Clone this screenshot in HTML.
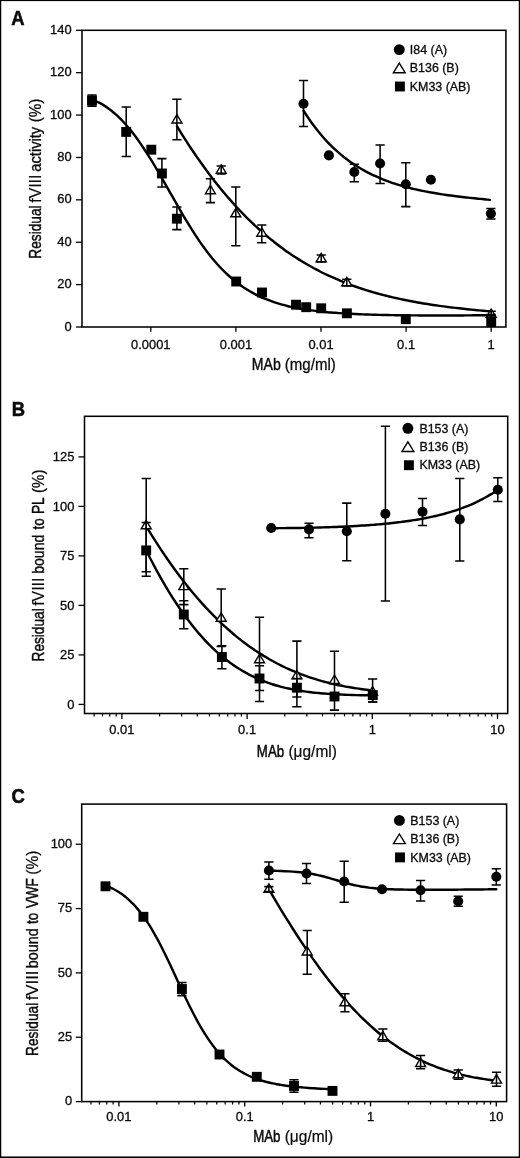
<!DOCTYPE html>
<html lang="en">
<head>
<meta charset="utf-8">
<title>Residual fVIII activity and binding in the presence of MAbs</title>
<style>
html,body{margin:0;padding:0;background:#fff;}
body{width:520px;height:1158px;overflow:hidden;}
svg{display:block;font-family:'Liberation Sans', Arial, Helvetica, sans-serif;fill:#0a0a0a;will-change:transform;}
text{stroke:#0a0a0a;stroke-width:0.3px;stroke-linejoin:round;}
.frame{fill:none;stroke:#000;stroke-width:1.55;}
.outer{fill:none;stroke:#000;}
.tk{stroke:#000;stroke-width:1.3;fill:none;}
.mtk{stroke:#000;stroke-width:1.25;fill:none;}
.ttl{stroke:#0a0a0a;stroke-width:0.5px;}
.eb{stroke:#000;stroke-width:1.55;fill:none;}
.cv{stroke:#000;stroke-width:2.45;fill:none;stroke-linecap:round;stroke-linejoin:round;}
.fill{fill:#000;stroke:none;}
.tri{fill:#fff;stroke:#000;stroke-width:1.4;stroke-linejoin:miter;}
</style>
</head>
<body>
<svg width="520" height="1158" viewBox="0 0 520 1158">
<rect x="0" y="0" width="520" height="1158" fill="#fff"/>
<rect x="0" y="0" width="1.25" height="1158" fill="#000"/>
<rect x="0" y="0" width="520" height="1.1" fill="#000"/>
<rect x="518.75" y="0" width="1.25" height="1158" fill="#000"/>
<rect x="0" y="1156.45" width="520" height="1.55" fill="#000"/>
<g id="panel-A">
<path d="M95.5 101.15C96.17 101.45 98.16 102.29 99.5 102.96C100.83 103.63 102.16 104.36 103.49 105.16C104.83 105.96 106.16 106.82 107.49 107.75C108.82 108.68 110.16 109.67 111.49 110.72C112.82 111.78 114.15 112.9 115.48 114.09C116.82 115.28 118.15 116.53 119.48 117.85C120.81 119.16 122.15 120.54 123.48 121.98C124.81 123.42 126.14 124.93 127.48 126.49C128.81 128.06 130.14 129.68 131.47 131.36C132.81 133.04 134.14 134.78 135.47 136.57C136.8 138.37 138.13 140.21 139.47 142.11C140.8 144.01 142.13 145.96 143.46 147.95C144.8 149.95 146.13 152 147.46 154.08C148.79 156.17 150.13 158.31 151.46 160.48C152.79 162.65 154.12 164.86 155.45 167.1C156.79 169.33 158.12 171.61 159.45 173.9C160.78 176.19 162.12 178.51 163.45 180.84C164.78 183.17 166.11 185.52 167.45 187.87C168.78 190.21 170.11 192.58 171.44 194.93C172.77 197.28 174.11 199.63 175.44 201.96C176.77 204.3 178.1 206.63 179.44 208.93C180.77 211.23 182.1 213.52 183.43 215.77C184.77 218.03 186.1 220.26 187.43 222.45C188.76 224.64 190.09 226.8 191.43 228.92C192.76 231.04 194.09 233.12 195.42 235.16C196.76 237.19 198.09 239.18 199.42 241.13C200.75 243.07 202.09 244.97 203.42 246.81C204.75 248.66 206.08 250.45 207.42 252.2C208.75 253.94 210.08 255.63 211.41 257.27C212.74 258.92 214.08 260.51 215.41 262.04C216.74 263.58 218.07 265.07 219.41 266.5C220.74 267.94 222.07 269.32 223.4 270.66C224.74 271.99 226.07 273.28 227.4 274.52C228.73 275.76 230.06 276.95 231.4 278.09C232.73 279.24 234.06 280.34 235.39 281.4C236.73 282.45 238.06 283.46 239.39 284.44C240.72 285.41 242.06 286.34 243.39 287.24C244.72 288.13 246.05 288.98 247.38 289.8C248.72 290.62 250.05 291.41 251.38 292.16C252.71 292.91 254.05 293.62 255.38 294.31C256.71 295 258.04 295.65 259.38 296.28C260.71 296.91 262.04 297.5 263.37 298.07C264.71 298.65 266.04 299.19 267.37 299.71C268.7 300.23 270.03 300.73 271.37 301.2C272.7 301.68 274.03 302.13 275.36 302.56C276.7 302.99 278.03 303.4 279.36 303.8C280.69 304.19 282.03 304.56 283.36 304.92C284.69 305.28 286.02 305.62 287.35 305.94C288.69 306.27 290.02 306.57 291.35 306.87C292.68 307.17 294.02 307.44 295.35 307.71C296.68 307.98 298.01 308.23 299.35 308.48C300.68 308.72 302.01 308.95 303.34 309.17C304.67 309.39 306.01 309.6 307.34 309.8C308.67 310 310 310.19 311.34 310.37C312.67 310.55 314 310.73 315.33 310.89C316.67 311.06 318 311.21 319.33 311.36C320.66 311.51 321.99 311.65 323.33 311.79C324.66 311.92 325.99 312.05 327.32 312.17C328.66 312.3 329.99 312.41 331.32 312.52C332.65 312.64 333.99 312.74 335.32 312.84C336.65 312.94 337.98 313.04 339.32 313.13C340.65 313.22 341.98 313.31 343.31 313.39C344.64 313.47 345.98 313.55 347.31 313.63C348.64 313.7 349.97 313.77 351.31 313.84C352.64 313.91 353.97 313.97 355.3 314.03C356.64 314.09 357.97 314.15 359.3 314.21C360.63 314.26 361.96 314.31 363.3 314.36C364.63 314.41 365.96 314.46 367.29 314.51C368.63 314.55 369.96 314.59 371.29 314.63C372.62 314.67 373.96 314.71 375.29 314.75C376.62 314.79 377.95 314.82 379.28 314.85C380.62 314.89 381.95 314.92 383.28 314.95C384.61 314.97 385.95 315 387.28 315.03C388.61 315.05 389.94 315.08 391.28 315.1C392.61 315.12 393.94 315.15 395.27 315.17C396.61 315.19 397.94 315.21 399.27 315.22C400.6 315.24 401.93 315.26 403.27 315.27C404.6 315.29 405.93 315.3 407.26 315.32C408.6 315.33 409.93 315.34 411.26 315.35C412.59 315.37 413.93 315.38 415.26 315.39C416.59 315.4 417.92 315.4 419.25 315.41C420.59 315.42 421.92 315.43 423.25 315.43C424.58 315.44 425.92 315.44 427.25 315.45C428.58 315.45 429.91 315.46 431.25 315.46C432.58 315.46 433.91 315.47 435.24 315.47C436.57 315.47 437.91 315.47 439.24 315.47C440.57 315.47 441.9 315.47 443.24 315.47C444.57 315.47 445.9 315.47 447.23 315.46C448.57 315.46 449.9 315.46 451.23 315.46C452.56 315.45 453.89 315.45 455.23 315.44C456.56 315.44 457.89 315.43 459.22 315.43C460.56 315.42 461.89 315.42 463.22 315.41C464.55 315.4 465.89 315.4 467.22 315.39C468.55 315.38 469.88 315.37 471.22 315.36C472.55 315.35 473.88 315.34 475.21 315.33C476.54 315.32 477.88 315.31 479.21 315.3C480.54 315.29 481.87 315.28 483.21 315.27C484.54 315.25 485.87 315.24 487.2 315.23C488.54 315.22 490.53 315.19 491.2 315.19" class="cv"/>
<path d="M176.9 126.18C177.56 127.25 179.55 130.5 180.88 132.62C182.2 134.75 183.53 136.84 184.86 138.91C186.18 140.98 187.51 143.03 188.84 145.05C190.16 147.06 191.49 149.06 192.81 151.03C194.14 152.99 195.47 154.94 196.79 156.85C198.12 158.77 199.44 160.66 200.77 162.53C202.1 164.39 203.42 166.23 204.75 168.05C206.08 169.87 207.4 171.66 208.73 173.43C210.05 175.19 211.38 176.93 212.71 178.65C214.03 180.37 215.36 182.06 216.68 183.73C218.01 185.4 219.34 187.05 220.66 188.67C221.99 190.29 223.32 191.88 224.64 193.46C225.97 195.03 227.29 196.58 228.62 198.11C229.95 199.64 231.27 201.14 232.6 202.62C233.92 204.1 235.25 205.56 236.58 207C237.9 208.43 239.23 209.84 240.56 211.23C241.88 212.63 243.21 213.99 244.53 215.34C245.86 216.69 247.19 218.01 248.51 219.32C249.84 220.62 251.16 221.91 252.49 223.17C253.82 224.43 255.14 225.67 256.47 226.89C257.8 228.11 259.12 229.31 260.45 230.49C261.77 231.67 263.1 232.83 264.43 233.97C265.75 235.11 267.08 236.23 268.41 237.33C269.73 238.44 271.06 239.52 272.38 240.58C273.71 241.64 275.04 242.69 276.36 243.71C277.69 244.74 279.01 245.75 280.34 246.74C281.67 247.73 282.99 248.7 284.32 249.65C285.65 250.61 286.97 251.54 288.3 252.46C289.62 253.38 290.95 254.29 292.28 255.17C293.6 256.06 294.93 256.93 296.25 257.78C297.58 258.64 298.91 259.47 300.23 260.3C301.56 261.12 302.89 261.92 304.21 262.71C305.54 263.5 306.86 264.28 308.19 265.04C309.52 265.8 310.84 266.55 312.17 267.28C313.49 268.01 314.82 268.72 316.15 269.43C317.47 270.13 318.8 270.82 320.13 271.49C321.45 272.17 322.78 272.83 324.1 273.48C325.43 274.13 326.76 274.76 328.08 275.39C329.41 276.01 330.73 276.62 332.06 277.22C333.39 277.81 334.71 278.4 336.04 278.97C337.37 279.55 338.69 280.11 340.02 280.66C341.34 281.21 342.67 281.75 344 282.27C345.32 282.8 346.65 283.32 347.97 283.82C349.3 284.33 350.63 284.82 351.95 285.31C353.28 285.79 354.61 286.27 355.93 286.73C357.26 287.2 358.58 287.65 359.91 288.1C361.24 288.54 362.56 288.98 363.89 289.4C365.21 289.83 366.54 290.25 367.87 290.65C369.19 291.06 370.52 291.46 371.85 291.85C373.17 292.24 374.5 292.62 375.82 293C377.15 293.37 378.48 293.74 379.8 294.09C381.13 294.45 382.45 294.8 383.78 295.14C385.11 295.49 386.43 295.82 387.76 296.15C389.09 296.48 390.41 296.8 391.74 297.11C393.06 297.42 394.39 297.73 395.72 298.03C397.04 298.33 398.37 298.62 399.69 298.91C401.02 299.19 402.35 299.47 403.67 299.75C405 300.02 406.33 300.29 407.65 300.55C408.98 300.81 410.3 301.07 411.63 301.32C412.96 301.57 414.28 301.82 415.61 302.06C416.94 302.3 418.26 302.53 419.59 302.76C420.91 302.99 422.24 303.21 423.57 303.43C424.89 303.65 426.22 303.87 427.54 304.08C428.87 304.29 430.2 304.49 431.52 304.69C432.85 304.9 434.18 305.09 435.5 305.28C436.83 305.48 438.15 305.67 439.48 305.85C440.81 306.03 442.13 306.22 443.46 306.39C444.78 306.57 446.11 306.74 447.44 306.91C448.76 307.08 450.09 307.25 451.42 307.41C452.74 307.57 454.07 307.73 455.39 307.89C456.72 308.04 458.05 308.19 459.37 308.34C460.7 308.49 462.02 308.64 463.35 308.78C464.68 308.93 466 309.07 467.33 309.21C468.66 309.35 469.98 309.48 471.31 309.61C472.63 309.75 473.96 309.88 475.29 310.01C476.61 310.13 477.94 310.26 479.26 310.38C480.59 310.51 481.92 310.63 483.24 310.75C484.57 310.87 485.9 310.98 487.22 311.1C488.55 311.21 490.54 311.38 491.2 311.44" class="cv"/>
<path d="M303.5 110.63C304.16 111.65 306.15 114.78 307.47 116.76C308.79 118.73 310.11 120.63 311.44 122.48C312.76 124.32 314.08 126.09 315.4 127.81C316.73 129.53 318.05 131.19 319.37 132.8C320.7 134.4 322.02 135.95 323.34 137.45C324.66 138.95 325.99 140.39 327.31 141.79C328.63 143.19 329.95 144.54 331.28 145.85C332.6 147.15 333.92 148.41 335.24 149.63C336.57 150.85 337.89 152.02 339.21 153.16C340.54 154.29 341.86 155.39 343.18 156.45C344.5 157.51 345.83 158.53 347.15 159.52C348.47 160.51 349.79 161.46 351.12 162.39C352.44 163.31 353.76 164.2 355.09 165.06C356.41 165.92 357.73 166.75 359.05 167.56C360.38 168.36 361.7 169.13 363.02 169.88C364.34 170.63 365.67 171.35 366.99 172.05C368.31 172.75 369.63 173.43 370.96 174.08C372.28 174.73 373.6 175.36 374.93 175.97C376.25 176.58 377.57 177.16 378.89 177.73C380.22 178.3 381.54 178.84 382.86 179.37C384.18 179.9 385.51 180.41 386.83 180.91C388.15 181.4 389.48 181.88 390.8 182.34C392.12 182.8 393.44 183.24 394.77 183.67C396.09 184.1 397.41 184.52 398.73 184.92C400.06 185.32 401.38 185.71 402.7 186.09C404.02 186.46 405.35 186.82 406.67 187.17C407.99 187.53 409.32 187.86 410.64 188.19C411.96 188.52 413.28 188.84 414.61 189.14C415.93 189.45 417.25 189.75 418.57 190.04C419.9 190.32 421.22 190.6 422.54 190.87C423.87 191.14 425.19 191.4 426.51 191.66C427.83 191.91 429.16 192.15 430.48 192.39C431.8 192.63 433.12 192.86 434.45 193.08C435.77 193.31 437.09 193.52 438.41 193.73C439.74 193.95 441.06 194.15 442.38 194.35C443.71 194.55 445.03 194.74 446.35 194.93C447.67 195.12 449 195.3 450.32 195.48C451.64 195.66 452.96 195.83 454.29 196C455.61 196.17 456.93 196.34 458.26 196.5C459.58 196.66 460.9 196.82 462.22 196.98C463.55 197.13 464.87 197.28 466.19 197.43C467.51 197.58 468.84 197.72 470.16 197.87C471.48 198.01 472.8 198.15 474.13 198.29C475.45 198.43 476.77 198.56 478.1 198.7C479.42 198.83 480.74 198.96 482.06 199.09C483.39 199.22 484.71 199.35 486.03 199.48C487.35 199.6 489.34 199.79 490 199.85" class="cv"/>
<rect x="82" y="30.3" width="423.9" height="296.7" class="frame"/>
<path d="M76 327H82" class="tk"/>
<text transform="translate(71.6 330.6) scale(1.06 1)" font-size="12.2" text-anchor="end">0</text>
<path d="M76 284.61H82" class="tk"/>
<text transform="translate(71.6 288.21) scale(1.06 1)" font-size="12.2" text-anchor="end">20</text>
<path d="M76 242.23H82" class="tk"/>
<text transform="translate(71.6 245.83) scale(1.06 1)" font-size="12.2" text-anchor="end">40</text>
<path d="M76 199.84H82" class="tk"/>
<text transform="translate(71.6 203.44) scale(1.06 1)" font-size="12.2" text-anchor="end">60</text>
<path d="M76 157.46H82" class="tk"/>
<text transform="translate(71.6 161.06) scale(1.06 1)" font-size="12.2" text-anchor="end">80</text>
<path d="M76 115.07H82" class="tk"/>
<text transform="translate(71.6 118.67) scale(1.06 1)" font-size="12.2" text-anchor="end">100</text>
<path d="M76 72.69H82" class="tk"/>
<text transform="translate(71.6 76.29) scale(1.06 1)" font-size="12.2" text-anchor="end">120</text>
<path d="M76 30.3H82" class="tk"/>
<text transform="translate(71.6 33.9) scale(1.06 1)" font-size="12.2" text-anchor="end">140</text>
<path d="M150.8 327V331.7" class="tk"/>
<text transform="translate(150.8 348.8) scale(1.06 1)" font-size="12.2" text-anchor="middle">0.0001</text>
<path d="M235.9 327V331.7" class="tk"/>
<text transform="translate(235.9 348.8) scale(1.06 1)" font-size="12.2" text-anchor="middle">0.001</text>
<path d="M321 327V331.7" class="tk"/>
<text transform="translate(321 348.8) scale(1.06 1)" font-size="12.2" text-anchor="middle">0.01</text>
<path d="M406.1 327V331.7" class="tk"/>
<text transform="translate(406.1 348.8) scale(1.06 1)" font-size="12.2" text-anchor="middle">0.1</text>
<path d="M491.2 327V331.7" class="tk"/>
<text transform="translate(491.2 348.8) scale(1.06 1)" font-size="12.2" text-anchor="middle">1</text>
<g aria-label="Residual fVIII activity (%)">
<text transform="translate(40.9 258.68) rotate(-90) scale(0.8461 1)" font-size="16.2" text-anchor="start" style="stroke-width:0.45px">Residual</text>
<text transform="translate(40.9 202.74) rotate(-90) scale(0.9777 1)" font-size="16.2" text-anchor="start" style="stroke-width:0.16px">fVIII</text>
<text transform="translate(40.9 171.67) rotate(-90) scale(0.9057 1)" font-size="16.2" text-anchor="start" style="stroke-width:0.32px">activity</text>
<text transform="translate(40.9 122.3) rotate(-90) scale(0.941 1)" font-size="16.2" text-anchor="start" style="stroke-width:0.24px">(%)</text>
</g>
<g aria-label="MAb (mg/ml)">
<text transform="translate(251.79 369.7) scale(0.8688 1)" font-size="16.2" text-anchor="start" style="stroke-width:0.40px">MAb</text>
<text transform="translate(284.81 369.7) scale(0.929 1)" font-size="16.2" text-anchor="start" style="stroke-width:0.27px">(mg/ml)</text>
</g>
<text transform="translate(11.2 25.3) scale(0.95 1)" font-size="19.4" text-anchor="start" font-weight="bold" style="stroke-width:0.55px">A</text>
<path d="M176.9 114.6L181.9 123L171.9 123Z" class="tri"/>
<path d="M210.4 185.3L215.4 193.7L205.4 193.7Z" class="tri"/>
<path d="M221.2 164.8L226.2 173.2L216.2 173.2Z" class="tri"/>
<path d="M235.8 208.4L240.8 216.8L230.8 216.8Z" class="tri"/>
<path d="M261.8 227.8L266.8 236.2L256.8 236.2Z" class="tri"/>
<path d="M321.2 253.3L326.2 261.7L316.2 261.7Z" class="tri"/>
<path d="M346.8 277.4L351.8 285.8L341.8 285.8Z" class="tri"/>
<path d="M491.2 309L496.2 317.4L486.2 317.4Z" class="tri"/>
<path d="M92 94.9V106.1M87.4 94.9H96.6M87.4 106.1H96.6" class="eb"/>
<path d="M126.2 106.9V156.5M121.6 106.9H130.8M121.6 156.5H130.8" class="eb"/>
<path d="M161.9 158.6V186.9M157.3 158.6H166.5M157.3 186.9H166.5" class="eb"/>
<path d="M176.9 207V229.6M172.3 207H181.5M172.3 229.6H181.5" class="eb"/>
<path d="M491.2 315.8V326.3M486.6 315.8H495.8M486.6 326.3H495.8" class="eb"/>
<path d="M176.9 99.3V139.7M172.3 99.3H181.5M172.3 139.7H181.5" class="eb"/>
<path d="M210.4 178.8V202.6M205.8 178.8H215M205.8 202.6H215" class="eb"/>
<path d="M221.2 166V174M216.6 166H225.8M216.6 174H225.8" class="eb"/>
<path d="M235.8 186.9V245.8M231.2 186.9H240.4M231.2 245.8H240.4" class="eb"/>
<path d="M261.8 225V242.8M257.2 225H266.4M257.2 242.8H266.4" class="eb"/>
<path d="M321.2 255V262M316.6 255H325.8M316.6 262H325.8" class="eb"/>
<path d="M346.8 279.2V286M342.2 279.2H351.4M342.2 286H351.4" class="eb"/>
<path d="M491.2 311.2V314.6M486.6 311.2H495.8M486.6 314.6H495.8" class="eb"/>
<path d="M303.5 80.4V126.5M298.9 80.4H308.1M298.9 126.5H308.1" class="eb"/>
<path d="M354.3 164.2V181.7M349.7 164.2H358.9M349.7 181.7H358.9" class="eb"/>
<path d="M380.1 145V183.5M375.5 145H384.7M375.5 183.5H384.7" class="eb"/>
<path d="M405.8 162.8V206.6M401.2 162.8H410.4M401.2 206.6H410.4" class="eb"/>
<path d="M490.9 208.5V218.9M486.3 208.5H495.5M486.3 218.9H495.5" class="eb"/>
<rect x="87.05" y="95.55" width="9.9" height="9.9" class="fill"/>
<rect x="121.25" y="126.95" width="9.9" height="9.9" class="fill"/>
<rect x="146.35" y="144.75" width="9.9" height="9.9" class="fill"/>
<rect x="156.95" y="168.55" width="9.9" height="9.9" class="fill"/>
<rect x="171.95" y="213.75" width="9.9" height="9.9" class="fill"/>
<rect x="231.25" y="276.55" width="9.9" height="9.9" class="fill"/>
<rect x="257.05" y="287.55" width="9.9" height="9.9" class="fill"/>
<rect x="291.05" y="299.75" width="9.9" height="9.9" class="fill"/>
<rect x="301.25" y="302.25" width="9.9" height="9.9" class="fill"/>
<rect x="316.25" y="303.35" width="9.9" height="9.9" class="fill"/>
<rect x="341.95" y="308.35" width="9.9" height="9.9" class="fill"/>
<rect x="400.85" y="314.25" width="9.9" height="9.9" class="fill"/>
<rect x="486.25" y="316.35" width="9.9" height="9.9" class="fill"/>
<circle cx="303.5" cy="103.7" r="5.05" class="fill"/>
<circle cx="328.9" cy="155.4" r="5.05" class="fill"/>
<circle cx="354.3" cy="172" r="5.05" class="fill"/>
<circle cx="380.1" cy="163.5" r="5.05" class="fill"/>
<circle cx="405.8" cy="184.2" r="5.05" class="fill"/>
<circle cx="430.9" cy="179.7" r="5.05" class="fill"/>
<circle cx="490.9" cy="213.6" r="5.05" class="fill"/>
<circle cx="399.3" cy="49.6" r="5.45" class="fill"/>
<text transform="translate(409.8 53.85) scale(1.03 1)" font-size="12.06" text-anchor="start">I84 (A)</text>
<path d="M399.3 63.15L405.2 72.75L393.4 72.75Z" class="tri"/>
<text transform="translate(409.8 72.3) scale(1.03 1)" font-size="12.06" text-anchor="start">B136 (B)</text>
<rect x="394.95" y="81.55" width="9.9" height="9.9" class="fill"/>
<text transform="translate(409.8 90.75) scale(1.03 1)" font-size="12.06" text-anchor="start">KM33 (AB)</text>
</g>
<g id="panel-B">
<path d="M147.6 528.61C148.27 529.69 150.28 532.97 151.62 535.11C152.96 537.25 154.3 539.36 155.64 541.45C156.97 543.54 158.31 545.6 159.65 547.64C160.99 549.67 162.33 551.68 163.67 553.66C165.01 555.64 166.35 557.6 167.69 559.53C169.03 561.46 170.37 563.36 171.71 565.24C173.05 567.12 174.39 568.97 175.72 570.79C177.06 572.62 178.4 574.42 179.74 576.19C181.08 577.96 182.42 579.71 183.76 581.43C185.1 583.15 186.44 584.85 187.78 586.52C189.12 588.19 190.46 589.84 191.8 591.46C193.14 593.08 194.47 594.67 195.81 596.24C197.15 597.81 198.49 599.36 199.83 600.88C201.17 602.4 202.51 603.89 203.85 605.36C205.19 606.83 206.53 608.28 207.87 609.7C209.21 611.12 210.55 612.52 211.89 613.89C213.23 615.27 214.56 616.62 215.9 617.94C217.24 619.27 218.58 620.57 219.92 621.85C221.26 623.13 222.6 624.39 223.94 625.62C225.28 626.85 226.62 628.06 227.96 629.25C229.3 630.44 230.64 631.6 231.98 632.75C233.31 633.89 234.65 635.01 235.99 636.11C237.33 637.21 238.67 638.29 240.01 639.34C241.35 640.4 242.69 641.43 244.03 642.45C245.37 643.46 246.71 644.45 248.05 645.42C249.39 646.4 250.72 647.35 252.06 648.28C253.4 649.21 254.74 650.12 256.08 651.01C257.42 651.9 258.76 652.78 260.1 653.63C261.44 654.48 262.78 655.32 264.12 656.13C265.46 656.95 266.8 657.74 268.14 658.52C269.48 659.3 270.81 660.06 272.15 660.8C273.49 661.54 274.83 662.26 276.17 662.97C277.51 663.68 278.85 664.37 280.19 665.04C281.53 665.71 282.87 666.37 284.21 667.01C285.55 667.65 286.89 668.27 288.23 668.88C289.56 669.48 290.9 670.07 292.24 670.65C293.58 671.23 294.92 671.79 296.26 672.33C297.6 672.88 298.94 673.41 300.28 673.92C301.62 674.44 302.96 674.94 304.3 675.43C305.64 675.92 306.97 676.39 308.31 676.85C309.65 677.31 310.99 677.76 312.33 678.19C313.67 678.62 315.01 679.04 316.35 679.45C317.69 679.86 319.03 680.26 320.37 680.64C321.71 681.02 323.05 681.4 324.39 681.76C325.73 682.12 327.06 682.46 328.4 682.8C329.74 683.14 331.08 683.46 332.42 683.78C333.76 684.09 335.1 684.4 336.44 684.69C337.78 684.99 339.12 685.27 340.46 685.54C341.8 685.82 343.14 686.08 344.48 686.34C345.81 686.59 347.15 686.84 348.49 687.07C349.83 687.31 351.17 687.53 352.51 687.75C353.85 687.97 355.19 688.18 356.53 688.38C357.87 688.58 359.21 688.78 360.55 688.96C361.89 689.15 363.22 689.32 364.56 689.49C365.9 689.66 367.24 689.82 368.58 689.98C369.92 690.13 371.93 690.35 372.6 690.42" class="cv"/>
<path d="M148 553.98C148.67 555.28 150.67 559.23 152.01 561.78C153.35 564.34 154.68 566.85 156.02 569.32C157.36 571.78 158.7 574.21 160.03 576.58C161.37 578.96 162.71 581.3 164.04 583.59C165.38 585.88 166.72 588.12 168.05 590.33C169.39 592.53 170.73 594.68 172.06 596.8C173.4 598.91 174.74 600.98 176.07 603.01C177.41 605.04 178.75 607.02 180.09 608.96C181.42 610.9 182.76 612.79 184.1 614.65C185.43 616.5 186.77 618.31 188.11 620.08C189.44 621.85 190.78 623.58 192.12 625.27C193.45 626.95 194.79 628.6 196.13 630.2C197.47 631.8 198.8 633.37 200.14 634.89C201.48 636.41 202.81 637.89 204.15 639.34C205.49 640.78 206.82 642.19 208.16 643.55C209.5 644.92 210.83 646.25 212.17 647.54C213.51 648.83 214.85 650.08 216.18 651.3C217.52 652.51 218.86 653.69 220.19 654.84C221.53 655.99 222.87 657.1 224.2 658.17C225.54 659.25 226.88 660.29 228.21 661.3C229.55 662.31 230.89 663.28 232.23 664.23C233.56 665.17 234.9 666.08 236.24 666.96C237.57 667.85 238.91 668.7 240.25 669.52C241.58 670.34 242.92 671.13 244.26 671.89C245.59 672.66 246.93 673.39 248.27 674.1C249.6 674.81 250.94 675.49 252.28 676.15C253.62 676.8 254.95 677.43 256.29 678.04C257.63 678.64 258.96 679.23 260.3 679.78C261.64 680.34 262.97 680.88 264.31 681.39C265.65 681.9 266.98 682.39 268.32 682.86C269.66 683.34 271 683.78 272.33 684.22C273.67 684.65 275.01 685.06 276.34 685.45C277.68 685.84 279.02 686.22 280.35 686.57C281.69 686.93 283.03 687.27 284.36 687.6C285.7 687.92 287.04 688.23 288.38 688.52C289.71 688.82 291.05 689.09 292.39 689.36C293.72 689.62 295.06 689.88 296.4 690.11C297.73 690.35 299.07 690.58 300.41 690.79C301.74 691.01 303.08 691.21 304.42 691.4C305.75 691.59 307.09 691.77 308.43 691.94C309.77 692.11 311.1 692.28 312.44 692.43C313.78 692.58 315.11 692.72 316.45 692.86C317.79 692.99 319.12 693.12 320.46 693.24C321.8 693.36 323.13 693.47 324.47 693.57C325.81 693.68 327.15 693.78 328.48 693.87C329.82 693.96 331.16 694.05 332.49 694.13C333.83 694.21 335.17 694.29 336.5 694.36C337.84 694.43 339.18 694.49 340.51 694.56C341.85 694.62 343.19 694.67 344.53 694.73C345.86 694.78 347.2 694.83 348.54 694.88C349.87 694.92 351.21 694.97 352.55 695.01C353.88 695.05 355.22 695.08 356.56 695.12C357.89 695.15 359.23 695.18 360.57 695.21C361.9 695.24 363.24 695.27 364.58 695.3C365.92 695.32 367.25 695.34 368.59 695.37C369.93 695.39 371.93 695.42 372.6 695.43" class="cv"/>
<path d="M271.2 528.17C271.86 528.17 273.85 528.16 275.18 528.16C276.5 528.16 277.83 528.15 279.15 528.14C280.48 528.14 281.8 528.13 283.13 528.12C284.45 528.11 285.78 528.1 287.1 528.08C288.43 528.07 289.75 528.06 291.08 528.04C292.4 528.03 293.73 528.01 295.05 527.99C296.38 527.98 297.7 527.96 299.03 527.94C300.35 527.92 301.68 527.89 303 527.87C304.33 527.85 305.65 527.82 306.98 527.8C308.3 527.77 309.63 527.74 310.95 527.71C312.28 527.68 313.6 527.65 314.93 527.62C316.25 527.59 317.58 527.55 318.91 527.51C320.23 527.48 321.56 527.44 322.88 527.4C324.21 527.36 325.53 527.32 326.86 527.28C328.18 527.23 329.51 527.19 330.83 527.14C332.16 527.09 333.48 527.04 334.81 526.99C336.13 526.94 337.46 526.89 338.78 526.83C340.11 526.78 341.43 526.72 342.76 526.66C344.08 526.6 345.41 526.54 346.73 526.47C348.06 526.41 349.38 526.34 350.71 526.27C352.03 526.2 353.36 526.13 354.68 526.06C356.01 525.98 357.33 525.9 358.66 525.82C359.98 525.74 361.31 525.66 362.64 525.57C363.96 525.49 365.29 525.4 366.61 525.3C367.94 525.21 369.26 525.11 370.59 525.02C371.91 524.92 373.24 524.81 374.56 524.71C375.89 524.6 377.21 524.49 378.54 524.37C379.86 524.26 381.19 524.14 382.51 524.02C383.84 523.9 385.16 523.77 386.49 523.64C387.81 523.51 389.14 523.37 390.46 523.23C391.79 523.09 393.11 522.94 394.44 522.79C395.76 522.64 397.09 522.49 398.41 522.33C399.74 522.16 401.06 522 402.39 521.82C403.71 521.65 405.04 521.47 406.36 521.29C407.69 521.1 409.02 520.91 410.34 520.71C411.67 520.52 412.99 520.31 414.32 520.1C415.64 519.89 416.97 519.67 418.29 519.44C419.62 519.21 420.94 518.98 422.27 518.73C423.59 518.49 424.92 518.24 426.24 517.98C427.57 517.72 428.89 517.45 430.22 517.17C431.54 516.89 432.87 516.6 434.19 516.3C435.52 516 436.84 515.69 438.17 515.37C439.49 515.04 440.82 514.71 442.14 514.37C443.47 514.02 444.79 513.67 446.12 513.3C447.44 512.93 448.77 512.55 450.09 512.15C451.42 511.75 452.75 511.35 454.07 510.92C455.4 510.5 456.72 510.06 458.05 509.6C459.37 509.15 460.7 508.67 462.02 508.19C463.35 507.7 464.67 507.19 466 506.67C467.32 506.14 468.65 505.6 469.97 505.04C471.3 504.48 472.62 503.89 473.95 503.29C475.27 502.69 476.6 502.06 477.92 501.41C479.25 500.77 480.57 500.1 481.9 499.4C483.22 498.71 484.55 497.99 485.87 497.24C487.2 496.49 488.52 495.72 489.85 494.92C491.17 494.12 492.5 493.29 493.82 492.43C495.15 491.57 497.14 490.2 497.8 489.76" class="cv"/>
<rect x="84.5" y="416.3" width="423.2" height="297.2" class="frame"/>
<path d="M78.5 704.4H84.5" class="tk"/>
<text transform="translate(74.4 708.5) scale(1.06 1)" font-size="12.2" text-anchor="end">0</text>
<path d="M78.5 654.9H84.5" class="tk"/>
<text transform="translate(74.4 659) scale(1.06 1)" font-size="12.2" text-anchor="end">25</text>
<path d="M78.5 605.4H84.5" class="tk"/>
<text transform="translate(74.4 609.5) scale(1.06 1)" font-size="12.2" text-anchor="end">50</text>
<path d="M78.5 555.9H84.5" class="tk"/>
<text transform="translate(74.4 560) scale(1.06 1)" font-size="12.2" text-anchor="end">75</text>
<path d="M78.5 506.4H84.5" class="tk"/>
<text transform="translate(74.4 510.5) scale(1.06 1)" font-size="12.2" text-anchor="end">100</text>
<path d="M78.5 456.9H84.5" class="tk"/>
<text transform="translate(74.4 461) scale(1.06 1)" font-size="12.2" text-anchor="end">125</text>
<path d="M121.9 713.5V718.9" class="tk"/>
<text transform="translate(121.9 734) scale(1.06 1)" font-size="12.2" text-anchor="middle">0.01</text>
<path d="M247.1 713.5V718.9" class="tk"/>
<text transform="translate(247.1 734) scale(1.06 1)" font-size="12.2" text-anchor="middle">0.1</text>
<path d="M372.3 713.5V718.9" class="tk"/>
<text transform="translate(372.3 734) scale(1.06 1)" font-size="12.2" text-anchor="middle">1</text>
<path d="M497.5 713.5V718.9" class="tk"/>
<text transform="translate(497.5 734) scale(1.06 1)" font-size="12.2" text-anchor="middle">10</text>
<path d="M94.12 713.5V716.4" class="mtk"/>
<path d="M102.51 713.5V716.4" class="mtk"/>
<path d="M109.77 713.5V716.4" class="mtk"/>
<path d="M116.17 713.5V716.4" class="mtk"/>
<path d="M159.59 713.5V716.4" class="mtk"/>
<path d="M181.64 713.5V716.4" class="mtk"/>
<path d="M197.28 713.5V716.4" class="mtk"/>
<path d="M209.41 713.5V716.4" class="mtk"/>
<path d="M219.32 713.5V716.4" class="mtk"/>
<path d="M227.71 713.5V716.4" class="mtk"/>
<path d="M234.97 713.5V716.4" class="mtk"/>
<path d="M241.37 713.5V716.4" class="mtk"/>
<path d="M284.79 713.5V716.4" class="mtk"/>
<path d="M306.84 713.5V716.4" class="mtk"/>
<path d="M322.48 713.5V716.4" class="mtk"/>
<path d="M334.61 713.5V716.4" class="mtk"/>
<path d="M344.52 713.5V716.4" class="mtk"/>
<path d="M352.91 713.5V716.4" class="mtk"/>
<path d="M360.17 713.5V716.4" class="mtk"/>
<path d="M366.57 713.5V716.4" class="mtk"/>
<path d="M409.99 713.5V716.4" class="mtk"/>
<path d="M432.04 713.5V716.4" class="mtk"/>
<path d="M447.68 713.5V716.4" class="mtk"/>
<path d="M459.81 713.5V716.4" class="mtk"/>
<path d="M469.72 713.5V716.4" class="mtk"/>
<path d="M478.11 713.5V716.4" class="mtk"/>
<path d="M485.37 713.5V716.4" class="mtk"/>
<path d="M491.77 713.5V716.4" class="mtk"/>
<g aria-label="Residual fVIII bound to PL (%)">
<text transform="translate(44.2 661.48) rotate(-90) scale(0.8445 1)" font-size="16.2" text-anchor="start" style="stroke-width:0.45px">Residual</text>
<text transform="translate(44.2 605.79) rotate(-90) scale(0.9795 1)" font-size="16.2" text-anchor="start" style="stroke-width:0.16px">fVIII</text>
<text transform="translate(44.2 573.76) rotate(-90) scale(0.868 1)" font-size="16.2" text-anchor="start" style="stroke-width:0.40px">bound</text>
<text transform="translate(44.2 529.45) rotate(-90) scale(0.8257 1)" font-size="16.2" text-anchor="start" style="stroke-width:0.49px">to</text>
<text transform="translate(44.2 514.08) rotate(-90) scale(0.8472 1)" font-size="16.2" text-anchor="start" style="stroke-width:0.45px">PL</text>
<text transform="translate(44.2 492.89) rotate(-90) scale(0.9238 1)" font-size="16.2" text-anchor="start" style="stroke-width:0.28px">(%)</text>
</g>
<g aria-label="MAb (μg/ml)">
<text transform="translate(256.86 756.5) scale(0.8177 1)" font-size="16.2" text-anchor="start" style="stroke-width:0.51px">MAb</text>
<text transform="translate(288.38 756.5) scale(0.9573 1)" font-size="16.2" text-anchor="start" style="stroke-width:0.20px">(μg/ml)</text>
</g>
<text transform="translate(11.8 415.5) scale(0.95 1)" font-size="19.4" text-anchor="start" font-weight="bold" style="stroke-width:0.55px">B</text>
<path d="M146.2 520.4L151.2 528.8L141.2 528.8Z" class="tri"/>
<path d="M183.8 581.2L188.8 589.6L178.8 589.6Z" class="tri"/>
<path d="M221.2 612.8L226.2 621.2L216.2 621.2Z" class="tri"/>
<path d="M259.5 654.3L264.5 662.7L254.5 662.7Z" class="tri"/>
<path d="M296.9 670.5L301.9 678.9L291.9 678.9Z" class="tri"/>
<path d="M334.5 675.1L339.5 683.5L329.5 683.5Z" class="tri"/>
<path d="M372.6 686.6L377.6 695L367.6 695Z" class="tri"/>
<path d="M146.2 478.5V571.8M141.6 478.5H150.8M141.6 571.8H150.8" class="eb"/>
<path d="M183.8 568.8V604.6M179.2 568.8H188.4M179.2 604.6H188.4" class="eb"/>
<path d="M221.2 588.9V646.5M216.6 588.9H225.8M216.6 646.5H225.8" class="eb"/>
<path d="M259.5 617.3V701.5M254.9 617.3H264.1M254.9 701.5H264.1" class="eb"/>
<path d="M296.9 641.1V706.8M292.3 641.1H301.5M292.3 706.8H301.5" class="eb"/>
<path d="M334.5 651.2V710.1M329.9 651.2H339.1M329.9 710.1H339.1" class="eb"/>
<path d="M372.6 678.9V702M368 678.9H377.2M368 702H377.2" class="eb"/>
<path d="M146.2 522.4V576.2M141.6 522.4H150.8M141.6 576.2H150.8" class="eb"/>
<path d="M183.8 600.7V628.8M179.2 600.7H188.4M179.2 628.8H188.4" class="eb"/>
<path d="M221.9 645.7V668.8M217.3 645.7H226.5M217.3 668.8H226.5" class="eb"/>
<path d="M259.5 665.8V690.5M254.9 665.8H264.1M254.9 690.5H264.1" class="eb"/>
<path d="M296.9 678.5V696.9M292.3 678.5H301.5M292.3 696.9H301.5" class="eb"/>
<path d="M372.8 695.1V702M368.2 695.1H377.4M368.2 702H377.4" class="eb"/>
<path d="M309 523.2V537.7M304.4 523.2H313.6M304.4 537.7H313.6" class="eb"/>
<path d="M346.8 503.1V560.8M342.2 503.1H351.4M342.2 560.8H351.4" class="eb"/>
<path d="M385.4 426.2V601M380.8 426.2H390M380.8 601H390" class="eb"/>
<path d="M422.5 498.5V525.5M417.9 498.5H427.1M417.9 525.5H427.1" class="eb"/>
<path d="M459.8 478.5V561M455.2 478.5H464.4M455.2 561H464.4" class="eb"/>
<path d="M497.8 477.8V501.5M493.2 477.8H502.4M493.2 501.5H502.4" class="eb"/>
<rect x="141.25" y="545.45" width="9.9" height="9.9" class="fill"/>
<rect x="178.85" y="609.55" width="9.9" height="9.9" class="fill"/>
<rect x="216.95" y="652.05" width="9.9" height="9.9" class="fill"/>
<rect x="254.55" y="673.55" width="9.9" height="9.9" class="fill"/>
<rect x="291.95" y="682.75" width="9.9" height="9.9" class="fill"/>
<rect x="329.55" y="691.55" width="9.9" height="9.9" class="fill"/>
<rect x="367.85" y="690.15" width="9.9" height="9.9" class="fill"/>
<circle cx="271.2" cy="528" r="5.05" class="fill"/>
<circle cx="309" cy="529.4" r="5.05" class="fill"/>
<circle cx="346.8" cy="531.2" r="5.05" class="fill"/>
<circle cx="385.4" cy="513.7" r="5.05" class="fill"/>
<circle cx="422.5" cy="511.7" r="5.05" class="fill"/>
<circle cx="459.8" cy="519.4" r="5.05" class="fill"/>
<circle cx="497.8" cy="489.8" r="5.05" class="fill"/>
<circle cx="407.9" cy="428.3" r="5.45" class="fill"/>
<text transform="translate(419.4 432.55) scale(1.03 1)" font-size="12.06" text-anchor="start">B153 (A)</text>
<path d="M407.9 441.85L413.8 451.45L402 451.45Z" class="tri"/>
<text transform="translate(419.4 451) scale(1.03 1)" font-size="12.06" text-anchor="start">B136 (B)</text>
<rect x="403.95" y="460.25" width="9.9" height="9.9" class="fill"/>
<text transform="translate(419.4 469.45) scale(1.03 1)" font-size="12.06" text-anchor="start">KM33 (AB)</text>
</g>
<g id="panel-C">
<path d="M105.5 885.42C106.16 885.7 108.15 886.48 109.48 887.07C110.81 887.67 112.14 888.31 113.46 889C114.79 889.7 116.12 890.44 117.45 891.25C118.77 892.06 120.1 892.92 121.43 893.85C122.76 894.79 124.08 895.78 125.41 896.85C126.74 897.93 128.07 899.06 129.39 900.29C130.72 901.51 132.05 902.81 133.38 904.2C134.7 905.59 136.03 907.06 137.36 908.62C138.69 910.19 140.01 911.84 141.34 913.59C142.67 915.33 144 917.17 145.32 919.1C146.65 921.03 147.98 923.06 149.31 925.18C150.63 927.29 151.96 929.5 153.29 931.8C154.62 934.09 155.94 936.48 157.27 938.93C158.6 941.39 159.93 943.94 161.25 946.54C162.58 949.14 163.91 951.82 165.24 954.53C166.56 957.25 167.89 960.04 169.22 962.84C170.55 965.64 171.87 968.49 173.2 971.35C174.53 974.2 175.86 977.08 177.18 979.95C178.51 982.81 179.84 985.69 181.17 988.52C182.49 991.36 183.82 994.19 185.15 996.97C186.48 999.74 187.8 1002.49 189.13 1005.18C190.46 1007.86 191.79 1010.5 193.11 1013.06C194.44 1015.62 195.77 1018.12 197.1 1020.54C198.42 1022.96 199.75 1025.31 201.08 1027.57C202.41 1029.84 203.73 1032.02 205.06 1034.12C206.39 1036.21 207.72 1038.22 209.04 1040.15C210.37 1042.08 211.7 1043.92 213.03 1045.67C214.35 1047.43 215.68 1049.1 217.01 1050.69C218.34 1052.28 219.66 1053.78 220.99 1055.22C222.32 1056.65 223.65 1058 224.97 1059.28C226.3 1060.57 227.63 1061.77 228.96 1062.92C230.28 1064.06 231.61 1065.14 232.94 1066.15C234.27 1067.17 235.59 1068.12 236.92 1069.02C238.25 1069.92 239.58 1070.76 240.9 1071.56C242.23 1072.35 243.56 1073.09 244.89 1073.79C246.21 1074.49 247.54 1075.14 248.87 1075.76C250.2 1076.37 251.52 1076.95 252.85 1077.49C254.18 1078.03 255.51 1078.53 256.83 1079C258.16 1079.48 259.49 1079.92 260.82 1080.33C262.14 1080.75 263.47 1081.13 264.8 1081.49C266.13 1081.86 267.45 1082.19 268.78 1082.51C270.11 1082.83 271.44 1083.13 272.76 1083.41C274.09 1083.69 275.42 1083.94 276.75 1084.19C278.07 1084.43 279.4 1084.66 280.73 1084.88C282.06 1085.09 283.38 1085.29 284.71 1085.48C286.04 1085.67 287.37 1085.84 288.69 1086.01C290.02 1086.18 291.35 1086.33 292.68 1086.48C294 1086.63 295.33 1086.77 296.66 1086.9C297.99 1087.03 299.31 1087.15 300.64 1087.27C301.97 1087.39 303.3 1087.5 304.62 1087.61C305.95 1087.71 307.28 1087.81 308.61 1087.91C309.93 1088 311.26 1088.09 312.59 1088.18C313.92 1088.27 315.24 1088.35 316.57 1088.43C317.9 1088.51 319.23 1088.59 320.55 1088.66C321.88 1088.74 323.21 1088.81 324.54 1088.88C325.86 1088.95 327.19 1089.02 328.52 1089.09C329.85 1089.15 331.84 1089.25 332.5 1089.28" class="cv"/>
<path d="M268.9 870.69C269.56 870.71 271.56 870.74 272.89 870.77C274.22 870.8 275.55 870.84 276.88 870.87C278.21 870.91 279.54 870.95 280.87 871C282.2 871.05 283.53 871.1 284.86 871.16C286.19 871.22 287.52 871.29 288.85 871.37C290.18 871.44 291.51 871.52 292.84 871.62C294.17 871.71 295.5 871.82 296.83 871.93C298.16 872.05 299.49 872.18 300.82 872.32C302.15 872.46 303.48 872.62 304.81 872.79C306.14 872.97 307.46 873.16 308.79 873.36C310.12 873.57 311.45 873.8 312.78 874.04C314.11 874.29 315.44 874.55 316.77 874.84C318.1 875.12 319.43 875.42 320.76 875.75C322.09 876.07 323.42 876.41 324.75 876.77C326.08 877.12 327.41 877.5 328.74 877.88C330.07 878.26 331.4 878.66 332.73 879.06C334.06 879.46 335.39 879.87 336.72 880.27C338.05 880.68 339.38 881.09 340.71 881.48C342.04 881.88 343.37 882.28 344.7 882.65C346.03 883.03 347.36 883.4 348.69 883.75C350.02 884.1 351.35 884.44 352.68 884.76C354.01 885.07 355.34 885.37 356.67 885.65C358 885.93 359.33 886.18 360.66 886.42C361.99 886.66 363.32 886.88 364.65 887.08C365.98 887.28 367.31 887.47 368.64 887.63C369.97 887.8 371.3 887.95 372.63 888.09C373.96 888.23 375.29 888.35 376.62 888.46C377.95 888.57 379.28 888.67 380.61 888.76C381.94 888.85 383.26 888.93 384.59 889C385.92 889.07 387.25 889.13 388.58 889.19C389.91 889.25 391.24 889.29 392.57 889.34C393.9 889.38 395.23 889.42 396.56 889.46C397.89 889.49 399.22 889.52 400.55 889.55C401.88 889.57 403.21 889.59 404.54 889.61C405.87 889.63 407.2 889.65 408.53 889.67C409.86 889.68 411.19 889.69 412.52 889.7C413.85 889.71 415.18 889.72 416.51 889.73C417.84 889.74 419.17 889.74 420.5 889.75C421.83 889.75 423.16 889.75 424.49 889.75C425.82 889.76 427.15 889.76 428.48 889.76C429.81 889.76 431.14 889.76 432.47 889.75C433.8 889.75 435.13 889.75 436.46 889.75C437.79 889.74 439.12 889.74 440.45 889.73C441.78 889.73 443.11 889.72 444.44 889.72C445.77 889.71 447.1 889.71 448.43 889.7C449.76 889.69 451.09 889.68 452.42 889.68C453.75 889.67 455.08 889.66 456.41 889.65C457.74 889.64 459.06 889.63 460.39 889.62C461.72 889.61 463.05 889.6 464.38 889.59C465.71 889.58 467.04 889.57 468.37 889.56C469.7 889.55 471.03 889.53 472.36 889.52C473.69 889.51 475.02 889.49 476.35 889.48C477.68 889.47 479.01 889.45 480.34 889.44C481.67 889.42 483 889.41 484.33 889.39C485.66 889.38 486.99 889.36 488.32 889.34C489.65 889.33 490.98 889.31 492.31 889.29C493.64 889.27 495.64 889.25 496.3 889.24" class="cv"/>
<path d="M268.9 889.39C269.57 890.52 271.56 893.94 272.89 896.19C274.22 898.44 275.55 900.68 276.89 902.9C278.22 905.12 279.55 907.33 280.88 909.52C282.21 911.71 283.54 913.89 284.87 916.04C286.2 918.2 287.53 920.34 288.86 922.46C290.2 924.59 291.53 926.69 292.86 928.78C294.19 930.87 295.52 932.93 296.85 934.98C298.18 937.03 299.51 939.06 300.84 941.07C302.17 943.08 303.51 945.07 304.84 947.04C306.17 949.01 307.5 950.96 308.83 952.89C310.16 954.82 311.49 956.73 312.82 958.61C314.15 960.5 315.48 962.36 316.82 964.21C318.15 966.05 319.48 967.87 320.81 969.67C322.14 971.46 323.47 973.24 324.8 974.99C326.13 976.74 327.46 978.47 328.79 980.18C330.13 981.89 331.46 983.57 332.79 985.23C334.12 986.89 335.45 988.52 336.78 990.13C338.11 991.75 339.44 993.33 340.77 994.9C342.1 996.46 343.44 998 344.77 999.52C346.1 1001.03 347.43 1002.52 348.76 1003.99C350.09 1005.45 351.42 1006.9 352.75 1008.31C354.08 1009.73 355.41 1011.12 356.75 1012.49C358.08 1013.86 359.41 1015.21 360.74 1016.52C362.07 1017.84 363.4 1019.14 364.73 1020.41C366.06 1021.68 367.39 1022.93 368.72 1024.15C370.06 1025.37 371.39 1026.57 372.72 1027.74C374.05 1028.92 375.38 1030.07 376.71 1031.19C378.04 1032.32 379.37 1033.42 380.7 1034.5C382.03 1035.57 383.37 1036.63 384.7 1037.66C386.03 1038.69 387.36 1039.7 388.69 1040.68C390.02 1041.67 391.35 1042.63 392.68 1043.57C394.01 1044.51 395.34 1045.43 396.68 1046.32C398.01 1047.21 399.34 1048.09 400.67 1048.94C402 1049.79 403.33 1050.62 404.66 1051.42C405.99 1052.23 407.32 1053.02 408.65 1053.78C409.99 1054.55 411.32 1055.3 412.65 1056.02C413.98 1056.75 415.31 1057.45 416.64 1058.14C417.97 1058.82 419.3 1059.49 420.63 1060.13C421.96 1060.78 423.3 1061.41 424.63 1062.02C425.96 1062.62 427.29 1063.21 428.62 1063.79C429.95 1064.36 431.28 1064.92 432.61 1065.45C433.94 1065.99 435.27 1066.51 436.61 1067.02C437.94 1067.52 439.27 1068.01 440.6 1068.48C441.93 1068.95 443.26 1069.41 444.59 1069.85C445.92 1070.29 447.25 1070.71 448.58 1071.12C449.92 1071.54 451.25 1071.93 452.58 1072.31C453.91 1072.7 455.24 1073.06 456.57 1073.42C457.9 1073.77 459.23 1074.12 460.56 1074.45C461.89 1074.77 463.23 1075.09 464.56 1075.39C465.89 1075.7 467.22 1075.99 468.55 1076.27C469.88 1076.55 471.21 1076.82 472.54 1077.08C473.87 1077.34 475.2 1077.59 476.54 1077.82C477.87 1078.06 479.2 1078.29 480.53 1078.51C481.86 1078.72 483.19 1078.93 484.52 1079.13C485.85 1079.33 487.18 1079.52 488.51 1079.7C489.85 1079.88 491.18 1080.05 492.51 1080.22C493.84 1080.38 495.83 1080.61 496.5 1080.69" class="cv"/>
<rect x="81.7" y="804.1" width="424.9" height="297.5" class="frame"/>
<path d="M75.7 1101.6H81.7" class="tk"/>
<text transform="translate(72.2 1105.4) scale(1.06 1)" font-size="12.2" text-anchor="end">0</text>
<path d="M75.7 1037.25H81.7" class="tk"/>
<text transform="translate(72.2 1041.05) scale(1.06 1)" font-size="12.2" text-anchor="end">25</text>
<path d="M75.7 972.9H81.7" class="tk"/>
<text transform="translate(72.2 976.7) scale(1.06 1)" font-size="12.2" text-anchor="end">50</text>
<path d="M75.7 908.55H81.7" class="tk"/>
<text transform="translate(72.2 912.35) scale(1.06 1)" font-size="12.2" text-anchor="end">75</text>
<path d="M75.7 844.2H81.7" class="tk"/>
<text transform="translate(72.2 848) scale(1.06 1)" font-size="12.2" text-anchor="end">100</text>
<path d="M118.9 1101.6V1106.4" class="tk"/>
<text transform="translate(118.9 1121.1) scale(1.06 1)" font-size="12.2" text-anchor="middle">0.01</text>
<path d="M244.7 1101.6V1106.4" class="tk"/>
<text transform="translate(244.7 1121.1) scale(1.06 1)" font-size="12.2" text-anchor="middle">0.1</text>
<path d="M370.5 1101.6V1106.4" class="tk"/>
<text transform="translate(370.5 1121.1) scale(1.06 1)" font-size="12.2" text-anchor="middle">1</text>
<path d="M496.3 1101.6V1106.4" class="tk"/>
<text transform="translate(496.3 1121.1) scale(1.06 1)" font-size="12.2" text-anchor="middle">10</text>
<path d="M90.99 1101.6V1104.5" class="mtk"/>
<path d="M99.41 1101.6V1104.5" class="mtk"/>
<path d="M106.71 1101.6V1104.5" class="mtk"/>
<path d="M113.14 1101.6V1104.5" class="mtk"/>
<path d="M156.77 1101.6V1104.5" class="mtk"/>
<path d="M178.92 1101.6V1104.5" class="mtk"/>
<path d="M194.64 1101.6V1104.5" class="mtk"/>
<path d="M206.83 1101.6V1104.5" class="mtk"/>
<path d="M216.79 1101.6V1104.5" class="mtk"/>
<path d="M225.21 1101.6V1104.5" class="mtk"/>
<path d="M232.51 1101.6V1104.5" class="mtk"/>
<path d="M238.94 1101.6V1104.5" class="mtk"/>
<path d="M282.57 1101.6V1104.5" class="mtk"/>
<path d="M304.72 1101.6V1104.5" class="mtk"/>
<path d="M320.44 1101.6V1104.5" class="mtk"/>
<path d="M332.63 1101.6V1104.5" class="mtk"/>
<path d="M342.59 1101.6V1104.5" class="mtk"/>
<path d="M351.01 1101.6V1104.5" class="mtk"/>
<path d="M358.31 1101.6V1104.5" class="mtk"/>
<path d="M364.74 1101.6V1104.5" class="mtk"/>
<path d="M408.37 1101.6V1104.5" class="mtk"/>
<path d="M430.52 1101.6V1104.5" class="mtk"/>
<path d="M446.24 1101.6V1104.5" class="mtk"/>
<path d="M458.43 1101.6V1104.5" class="mtk"/>
<path d="M468.39 1101.6V1104.5" class="mtk"/>
<path d="M476.81 1101.6V1104.5" class="mtk"/>
<path d="M484.11 1101.6V1104.5" class="mtk"/>
<path d="M490.54 1101.6V1104.5" class="mtk"/>
<g aria-label="Residual fVIII bound to VWF (%)">
<text transform="translate(38 1055.98) rotate(-90) scale(0.8445 1)" font-size="16.2" text-anchor="start" style="stroke-width:0.45px">Residual</text>
<text transform="translate(38 1000.3) rotate(-90) scale(1.035 1)" font-size="16.2" text-anchor="start" style="stroke-width:0.15px">fVIII</text>
<text transform="translate(38 968.29) rotate(-90) scale(0.8913 1)" font-size="16.2" text-anchor="start" style="stroke-width:0.35px">bound</text>
<text transform="translate(38 924.05) rotate(-90) scale(0.8257 1)" font-size="16.2" text-anchor="start" style="stroke-width:0.49px">to</text>
<text transform="translate(38 908.32) rotate(-90) scale(0.8344 1)" font-size="16.2" text-anchor="start" style="stroke-width:0.47px">VWF</text>
<text transform="translate(38 874.72) rotate(-90) scale(0.954 1)" font-size="16.2" text-anchor="start" style="stroke-width:0.21px">(%)</text>
</g>
<g aria-label="MAb (μg/ml)">
<text transform="translate(253.16 1142) scale(0.8177 1)" font-size="16.2" text-anchor="start" style="stroke-width:0.51px">MAb</text>
<text transform="translate(284.68 1142) scale(0.9573 1)" font-size="16.2" text-anchor="start" style="stroke-width:0.20px">(μg/ml)</text>
</g>
<text transform="translate(11.6 803.3) scale(0.95 1)" font-size="19.4" text-anchor="start" font-weight="bold" style="stroke-width:0.55px">C</text>
<path d="M268.9 883.9L273.9 892.3L263.9 892.3Z" class="tri"/>
<path d="M307.2 946.6L312.2 955L302.2 955Z" class="tri"/>
<path d="M344.9 997.4L349.9 1005.8L339.9 1005.8Z" class="tri"/>
<path d="M382.8 1031.3L387.8 1039.7L377.8 1039.7Z" class="tri"/>
<path d="M420.6 1058.1L425.6 1066.5L415.6 1066.5Z" class="tri"/>
<path d="M458.2 1069.3L463.2 1077.7L453.2 1077.7Z" class="tri"/>
<path d="M496.5 1074.7L501.5 1083.1L491.5 1083.1Z" class="tri"/>
<path d="M181.9 982.4V995.6M177.3 982.4H186.5M177.3 995.6H186.5" class="eb"/>
<path d="M294 1079.7V1092.3M289.4 1079.7H298.6M289.4 1092.3H298.6" class="eb"/>
<path d="M268.9 886.6V891.6M264.3 886.6H273.5M264.3 891.6H273.5" class="eb"/>
<path d="M307.2 930.4V974.2M302.6 930.4H311.8M302.6 974.2H311.8" class="eb"/>
<path d="M344.9 993.8V1011.8M340.3 993.8H349.5M340.3 1011.8H349.5" class="eb"/>
<path d="M382.8 1028.9V1041.2M378.2 1028.9H387.4M378.2 1041.2H387.4" class="eb"/>
<path d="M420.6 1055.5V1068.8M416 1055.5H425.2M416 1068.8H425.2" class="eb"/>
<path d="M458.2 1070V1079.2M453.6 1070H462.8M453.6 1079.2H462.8" class="eb"/>
<path d="M496.5 1072.3V1086.2M491.9 1072.3H501.1M491.9 1086.2H501.1" class="eb"/>
<path d="M268.9 861.9V879.2M264.3 861.9H273.5M264.3 879.2H273.5" class="eb"/>
<path d="M306.5 863.5V883.4M301.9 863.5H311.1M301.9 883.4H311.1" class="eb"/>
<path d="M344.2 861.2V902.3M339.6 861.2H348.8M339.6 902.3H348.8" class="eb"/>
<path d="M420.6 880.4V901M416 880.4H425.2M416 901H425.2" class="eb"/>
<path d="M458.2 896.2V906.2M453.6 896.2H462.8M453.6 906.2H462.8" class="eb"/>
<path d="M496.3 868.7V885M491.7 868.7H500.9M491.7 885H500.9" class="eb"/>
<rect x="100.55" y="881.35" width="9.9" height="9.9" class="fill"/>
<rect x="138.45" y="911.85" width="9.9" height="9.9" class="fill"/>
<rect x="176.95" y="984.05" width="9.9" height="9.9" class="fill"/>
<rect x="214.55" y="1049.55" width="9.9" height="9.9" class="fill"/>
<rect x="251.85" y="1071.85" width="9.9" height="9.9" class="fill"/>
<rect x="289.05" y="1081.05" width="9.9" height="9.9" class="fill"/>
<rect x="327.55" y="1085.95" width="9.9" height="9.9" class="fill"/>
<circle cx="268.9" cy="870.5" r="5.05" class="fill"/>
<circle cx="306.5" cy="873.5" r="5.05" class="fill"/>
<circle cx="344.2" cy="881.5" r="5.05" class="fill"/>
<circle cx="382" cy="889.2" r="5.05" class="fill"/>
<circle cx="420.6" cy="890.2" r="5.05" class="fill"/>
<circle cx="458.2" cy="901.2" r="5.05" class="fill"/>
<circle cx="496.3" cy="876.7" r="5.05" class="fill"/>
<circle cx="399.4" cy="820.4" r="5.45" class="fill"/>
<text transform="translate(410.3 824.65) scale(1.03 1)" font-size="12.06" text-anchor="start">B153 (A)</text>
<path d="M399.4 834L405.3 843.6L393.5 843.6Z" class="tri"/>
<text transform="translate(410.3 843.15) scale(1.03 1)" font-size="12.06" text-anchor="start">B136 (B)</text>
<rect x="395.05" y="852.45" width="9.9" height="9.9" class="fill"/>
<text transform="translate(410.3 861.65) scale(1.03 1)" font-size="12.06" text-anchor="start">KM33 (AB)</text>
</g>
</svg>
</body>
</html>
